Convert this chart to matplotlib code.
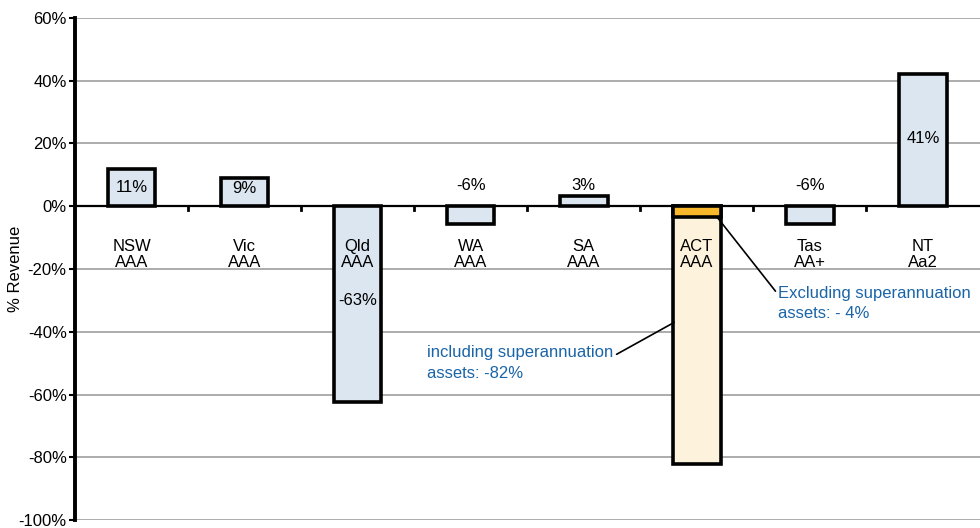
import matplotlib.pyplot as plt
from matplotlib.ticker import FuncFormatter

plt.rcParams['font.family'] = ['Liberation Sans', 'DejaVu Sans']
plt.rcParams['axes.unicode_minus'] = False

states  = ['NSW', 'Vic', 'Qld', 'WA', 'SA', 'ACT', 'Tas', 'NT']
ratings = ['AAA', 'AAA', 'AAA', 'AAA', 'AAA', 'AAA', 'AA+', 'Aa2']
values  = [11.8, 8.9, -62.5, -5.8, 3.2, -82.0, -5.8, 42.0]
labels  = ['11%', '9%', '-63%', '-6%', '3%', '', '-6%', '41%']
act_excl = -3.5

blue_fill  = '#dce6f0'
cream_fill = '#fdf2dc'
orange     = '#f9b82a'
note_col   = '#1a64a8'

x = list(range(len(states)))
fills = [cream_fill if s == 'ACT' else blue_fill for s in states]

fig = plt.figure(figsize=(9.8, 5.28), dpi=100)
ax = fig.add_axes([0.0765, 0.015, 0.923, 0.951])

ax.bar(x, values, width=0.42, color=fills, edgecolor='black', linewidth=2.6, zorder=3)
ax.bar([5], [act_excl], width=0.42, color=orange, edgecolor='black', linewidth=2.6, zorder=4)

# value labels
label_pos = {'NSW': 6, 'Vic': 5.5, 'Qld': -30, 'WA': 6.5, 'SA': 6.5, 'Tas': 6.5, 'NT': 21.5}
for i, s in enumerate(states):
    if labels[i]:
        ax.text(i, label_pos[s], labels[i], ha='center', va='center', fontsize=12, zorder=5)
    ax.text(i, -15.5, s + '\n' + ratings[i], ha='center', va='center', fontsize=12,
            linespacing=1.1, zorder=5)

ax.annotate('Excluding superannuation\nassets: - 4%', xy=(5.18, -3.5), xytext=(5.72, -31),
            color=note_col, fontsize=12, ha='left', va='center', linespacing=1.45,
            arrowprops=dict(arrowstyle='-', color='black', lw=1.2, shrinkA=0, shrinkB=0,
                            relpos=(0, 0.75)))
ax.annotate('including superannuation\nassets: -82%', xy=(4.8, -37), xytext=(2.61, -50),
            color=note_col, fontsize=12, ha='left', va='center', linespacing=1.45,
            arrowprops=dict(arrowstyle='-', color='black', lw=1.2, shrinkA=0, shrinkB=0,
                            relpos=(1.02, 0.75)))

ax.set_xlim(-0.5, 7.5)
ax.set_ylim(-100, 60)
ax.set_yticks(range(-100, 61, 20))
ax.yaxis.set_major_formatter(FuncFormatter(lambda v, p: f'{v:.0f}%'))
ax.tick_params(axis='y', labelsize=12, length=4, width=1.5, pad=2)
ax.set_xticks([])
ax.grid(axis='y', color='#a6a6a6', linewidth=1.3, zorder=0)
ax.axhline(0, color='black', linewidth=1.6, zorder=2)
for b in [0.5, 1.5, 2.5, 3.5, 4.5, 5.5, 6.5]:
    ax.plot([b, b], [0, -1.3], color='black', linewidth=2, zorder=2, clip_on=False)

for side in ['top', 'right', 'bottom']:
    ax.spines[side].set_visible(False)
ax.spines['left'].set_linewidth(2.8)
ax.set_ylabel('% Revenue', fontsize=12)
ax.yaxis.set_label_coords(-0.058, 0.5)

fig.savefig('out.png', dpi=100)
